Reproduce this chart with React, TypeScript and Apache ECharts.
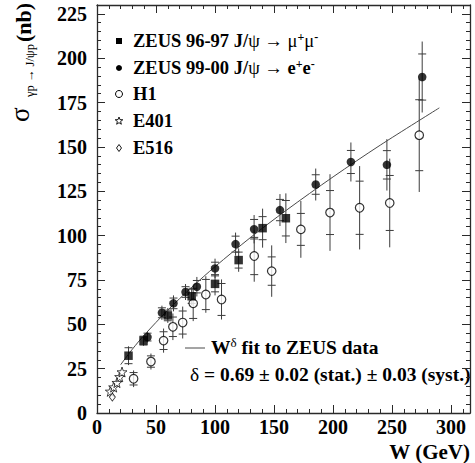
import React, { useEffect, useRef } from "react";
import * as echarts from "echarts";

// ZEUS 96-97 J/psi -> mu+ mu-
const zeus9697W = [26.7, 39.4, 60.0, 80.2, 100.0, 120.0, 140.3, 160.0];
const zeus9697Sigma = [32.3, 40.8, 55.0, 65.8, 72.8, 86.2, 104.2, 109.8];
const zeus9697Stat = [4.5, 2.5, 3.0, 4.0, 4.5, 4.5, 6.5, 10.0];
const zeus9697Tot = [5.3, 3.0, 4.2, 5.0, 6.5, 6.6, 11.0, 14.0];

// ZEUS 99-00 J/psi -> e+ e-
const zeus9900W = [42.8, 55.0, 64.8, 75.0, 84.6, 100.0, 117.4, 133.1, 155.0, 185.3, 215.1, 245.6, 275.5];
const zeus9900Sigma = [42.8, 56.5, 61.8, 68.2, 71.2, 81.5, 95.2, 103.6, 114.4, 128.8, 141.5, 139.9, 189.4];
const zeus9900Stat = [2.2, 2.8, 3.0, 3.0, 3.5, 3.5, 4.5, 5.5, 6.0, 5.5, 6.5, 8.0, 13.0];
const zeus9900Tot = [3.0, 4.0, 4.5, 4.5, 5.5, 5.5, 6.5, 8.0, 9.0, 9.0, 11.0, 14.5, 20.0];

// H1
const h1W = [31.0, 45.7, 56.4, 64.3, 72.6, 81.5, 92.2, 105.5, 133.2, 148.0, 172.7, 197.4, 222.5, 248.0, 273.0];
const h1Sigma = [19.3, 29.0, 40.8, 48.6, 51.0, 61.8, 66.8, 64.0, 88.5, 80.0, 103.5, 113.0, 115.7, 118.4, 156.6];
const h1Stat = [3.5, 3.2, 5.0, 5.5, 6.5, 8.5, 8.5, 9.0, 10.5, 8.0, 9.0, 12.4, 15.0, 15.5, 20.0];
const h1Tot = [4.7, 4.5, 6.8, 7.5, 9.0, 10.0, 10.3, 11.3, 14.5, 14.5, 16.0, 21.6, 23.5, 25.0, 32.0];

// E401
const e401W = [11.3, 14.1, 16.9, 19.2, 21.2];
const e401Sigma = [12.2, 14.6, 17.1, 20.4, 23.1];

// E516
const e516W = [13.0];
const e516Sigma = [9.0];

// W^delta fit
const fitW = [20, 30, 40, 60, 80, 100, 130, 160, 200, 240, 290];
const fitSigma = [27.2, 36.0, 43.9, 58.0, 70.7, 82.5, 98.9, 114.1, 133.1, 151.0, 172.0];

const xTicks = { min: 0, max: 316, interval: 50 };
const yTicks = { min: 0, max: 230, interval: 25 };

const SERIF = "'Liberation Serif', 'DejaVu Serif', serif";
const STAR = "path://M0,-10 L2.35,-3.24 L9.51,-3.09 L3.8,1.24 L5.88,8.09 L0,4 L-5.88,8.09 L-3.8,1.24 L-9.51,-3.09 L-2.35,-3.24 Z";

const pts = (w: number[], s: number[]) => w.map((x, i) => [x, s[i]]);
const errs = (w: number[], s: number[], st: number[], tt: number[]) =>
  w.map((x, i) => [x, s[i], st[i], tt[i]]);

function renderErr(_p: any, api: any) {
  const x = api.value(0);
  const y = api.value(1);
  const st = api.value(2);
  const tt = api.value(3);
  const top = api.coord([x, y + tt]);
  const bot = api.coord([x, y - tt]);
  const sTop = api.coord([x, y + st]);
  const sBot = api.coord([x, y - st]);
  const hw = 4;
  const style = { stroke: "#3c3c3c", lineWidth: 1 };
  return {
    type: "group",
    children: [
      { type: "line", shape: { x1: top[0], y1: top[1], x2: bot[0], y2: bot[1] }, style },
      { type: "line", shape: { x1: sTop[0] - hw, y1: sTop[1], x2: sTop[0] + hw, y2: sTop[1] }, style },
      { type: "line", shape: { x1: sBot[0] - hw, y1: sBot[1], x2: sBot[0] + hw, y2: sBot[1] }, style },
    ],
  };
}

function starPoints(cx: number, cy: number, r: number) {
  const p: number[][] = [];
  for (let i = 0; i < 10; i++) {
    const a = -Math.PI / 2 + (i * Math.PI) / 5;
    const rr = i % 2 === 0 ? r : r * 0.42;
    p.push([cx + rr * Math.cos(a), cy + rr * Math.sin(a)]);
  }
  return p;
}

export default function App() {
  const ref = useRef<HTMLDivElement>(null);
  useEffect(() => {
    if (!ref.current) return;
    const chart = echarts.init(ref.current, undefined, { renderer: "svg" });
    const axisColor = "#2a2a2a";
    const baseX = {
      type: "value",
      min: xTicks.min,
      max: xTicks.max,
      interval: xTicks.interval,
      axisLine: { show: true, onZero: false, lineStyle: { color: axisColor, width: 1.3 } },
      axisTick: { show: true, inside: true, length: 8, lineStyle: { color: axisColor } },
      minorTick: { show: true, splitNumber: 5, length: 4, lineStyle: { color: axisColor } },
      splitLine: { show: false },
    };
    const baseY = {
      type: "value",
      min: yTicks.min,
      max: yTicks.max,
      interval: yTicks.interval,
      axisLine: { show: true, onZero: false, lineStyle: { color: axisColor, width: 1.3 } },
      axisTick: { show: true, inside: true, length: 8, lineStyle: { color: axisColor } },
      minorTick: { show: true, splitNumber: 5, length: 4, lineStyle: { color: axisColor } },
      splitLine: { show: false },
    };
    const labelStyle = { fontFamily: SERIF, fontWeight: "bold", fontSize: 20, color: "#000" };
    const legendRows = [
      { y: 41, kind: "square" },
      { y: 68, kind: "circle" },
      { y: 94, kind: "open" },
      { y: 121, kind: "star" },
      { y: 148, kind: "diamond" },
    ];
    const mx = 119;
    const markers: any[] = legendRows.map((r) => {
      if (r.kind === "square")
        return { type: "rect", shape: { x: mx - 3, y: r.y - 3, width: 6, height: 6 }, style: { fill: "#000" } };
      if (r.kind === "circle")
        return { type: "circle", shape: { cx: mx, cy: r.y, r: 3 }, style: { fill: "#000" } };
      if (r.kind === "open")
        return { type: "circle", shape: { cx: mx, cy: r.y, r: 3.5 }, style: { fill: "#fff", stroke: "#000", lineWidth: 1 } };
      if (r.kind === "star")
        return { type: "polygon", shape: { points: starPoints(mx, r.y, 4) }, style: { fill: "#fff", stroke: "#000", lineWidth: 0.9 } };
      return {
        type: "polygon",
        shape: { points: [[mx, r.y - 3.5], [mx + 2.5, r.y], [mx, r.y + 3.5], [mx - 2.5, r.y]] },
        style: { fill: "#fff", stroke: "#000", lineWidth: 0.9 },
      };
    });
    const rich = {
      b: { fontFamily: SERIF, fontWeight: "bold", fontSize: 18.5, color: "#000" },
      r: { fontFamily: SERIF, fontWeight: "normal", fontSize: 18.5, color: "#000" },
      sup: { fontFamily: SERIF, fontWeight: "bold", fontSize: 12, color: "#000", verticalAlign: "top" },
    };
    const richFit = {
      b: { fontFamily: SERIF, fontWeight: "bold", fontSize: 19.5, color: "#000" },
      r: { fontFamily: SERIF, fontWeight: "normal", fontSize: 19.5, color: "#000" },
      supr: { fontFamily: SERIF, fontWeight: "normal", fontSize: 13, color: "#000", verticalAlign: "top" },
    };
    const legendTexts = [
      "{b|ZEUS 96-97 J/}{r|ψ → μ}{sup|+}{r|μ}{sup|-}",
      "{b|ZEUS 99-00 J/}{r|ψ → }{b|e}{sup|+}{b|e}{sup|-}",
      "{b|H1}",
      "{b|E401}",
      "{b|E516}",
    ];
    const legendTextEls = legendTexts.map((t, i) => ({
      type: "text",
      x: 133,
      y: legendRows[i].y,
      style: { text: t, rich, textVerticalAlign: "middle", textAlign: "left", lineHeight: 21 },
    }));

    const option: any = {
      animation: false,
      grid: { left: 97, right: 5, top: 5, bottom: 50, containLabel: false },
      xAxis: [
        { ...baseX, position: "bottom", axisLabel: { ...labelStyle, margin: 4 } },
        { ...baseX, position: "top", axisLabel: { show: false } },
      ],
      yAxis: [
        { ...baseY, position: "left", axisLabel: { ...labelStyle, margin: 10 } },
        { ...baseY, position: "right", axisLabel: { show: false } },
      ],
      series: [
        {
          type: "custom",
          renderItem: renderErr,
          encode: { x: 0, y: 1 },
          data: [
            ...errs(zeus9697W, zeus9697Sigma, zeus9697Stat, zeus9697Tot),
            ...errs(zeus9900W, zeus9900Sigma, zeus9900Stat, zeus9900Tot),
            ...errs(h1W, h1Sigma, h1Stat, h1Tot),
          ],
          z: 1,
          silent: true,
        },
        {
          type: "line",
          data: pts(fitW, fitSigma),
          smooth: 0.3,
          showSymbol: false,
          lineStyle: { color: "#4a4a4a", width: 1 },
          z: 2,
          silent: true,
        },
        {
          type: "scatter",
          name: "ZEUS 96-97",
          data: pts(zeus9697W, zeus9697Sigma),
          symbol: "rect",
          symbolSize: 8.5,
          itemStyle: { color: "#000" },
          z: 4,
        },
        {
          type: "scatter",
          name: "ZEUS 99-00",
          data: pts(zeus9900W, zeus9900Sigma),
          symbol: "circle",
          symbolSize: 8.5,
          itemStyle: { color: "#000" },
          z: 4,
        },
        {
          type: "scatter",
          name: "H1",
          data: pts(h1W, h1Sigma),
          symbol: "circle",
          symbolSize: 8.5,
          itemStyle: { color: "#fff", borderColor: "#000", borderWidth: 1.2 },
          z: 3,
        },
        {
          type: "scatter",
          name: "E401",
          data: pts(e401W, e401Sigma),
          symbol: STAR,
          symbolSize: 10,
          itemStyle: { color: "#fff", borderColor: "#000", borderWidth: 0.9 },
          z: 3,
        },
        {
          type: "scatter",
          name: "E516",
          data: pts(e516W, e516Sigma),
          symbol: "diamond",
          symbolSize: [6, 8],
          itemStyle: { color: "#fff", borderColor: "#000", borderWidth: 0.9 },
          z: 3,
        },
      ],
      graphic: [
        ...markers,
        ...legendTextEls,
        {
          type: "line",
          shape: { x1: 185, y1: 348, x2: 205, y2: 348 },
          style: { stroke: "#4a4a4a", lineWidth: 1 },
        },
        {
          type: "text",
          x: 211,
          y: 347,
          style: {
            text: "{b|W}{supr|δ}{b| fit to ZEUS data}",
            rich: richFit,
            textVerticalAlign: "middle",
            lineHeight: 22,
          },
        },
        {
          type: "text",
          x: 190,
          y: 374,
          style: {
            text: "{r|δ}{b| = 0.69 ± 0.02 (stat.) ± 0.03 (syst.)}",
            rich: richFit,
            textVerticalAlign: "middle",
          },
        },
        {
          type: "text",
          x: 470,
          y: 452,
          style: {
            text: "W (GeV)",
            fontFamily: SERIF,
            fontWeight: "bold",
            fontSize: 21,
            fill: "#000",
            textAlign: "right",
            textVerticalAlign: "middle",
          },
        },
        {
          type: "text",
          x: 34,
          y: 42,
          rotation: Math.PI / 2,
          style: {
            text: "(nb)",
            fontFamily: SERIF,
            fontWeight: "bold",
            fontSize: 22,
            fill: "#000",
            textAlign: "left",
            textVerticalAlign: "bottom",
          },
        },
        {
          type: "text",
          x: 36,
          y: 97,
          rotation: Math.PI / 2,
          style: {
            text: "γp → J/ψp",
            fontFamily: SERIF,
            fontSize: 12.5,
            fill: "#000",
            textAlign: "left",
            textVerticalAlign: "bottom",
          },
        },
        {
          type: "text",
          x: 33,
          y: 122,
          rotation: Math.PI / 2,
          style: {
            text: "σ",
            fontFamily: SERIF,
            fontSize: 27,
            fill: "#000",
            textAlign: "left",
            textVerticalAlign: "bottom",
          },
        },
      ],
    };
    chart.setOption(option);
    return () => chart.dispose();
  }, []);
  return <div ref={ref} style={{ width: 475, height: 463, position: "absolute", left: 0, top: 0 }} />;
}
